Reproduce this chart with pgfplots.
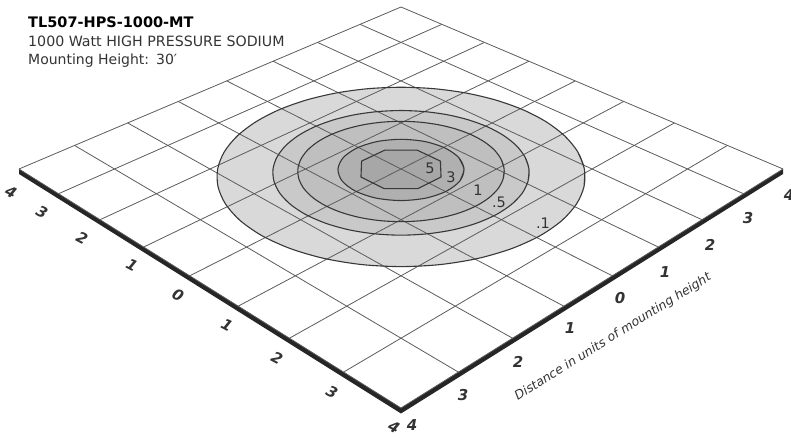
\documentclass[border=0pt]{standalone}
\usepackage{pgfplots}
\usepackage{pgfplotstable}
\pgfplotsset{compat=1.18}
\usepackage{fontspec}
\setmainfont{DejaVu Sans}
\definecolor{gridc}{gray}{0.36}
\definecolor{linec}{gray}{0.22}
\definecolor{txtc}{gray}{0.2}
\definecolor{fA}{gray}{0.85}
\definecolor{fB}{gray}{0.79}
\definecolor{fC}{gray}{0.75}
\definecolor{fD}{gray}{0.69}
\definecolor{fE}{gray}{0.655}

\newcommand\XUV{projx((\thisrow{u}+\thisrow{v})/2,(\thisrow{v}-\thisrow{u})/2)}
\newcommand\YUV{projy((\thisrow{u}+\thisrow{v})/2,(\thisrow{v}-\thisrow{u})/2)}
\newcommand\XLD{projx(\thisrow{l},\thisrow{d})}
\newcommand\YLD{projy(\thisrow{l},\thisrow{d})}

% contour .1 (l = lateral, d = depth, in plane units)
\pgfplotstableread{
l d
1.883 -0.360
1.920 0
1.883 0.360
1.774 0.705
1.596 1.024
1.358 1.303
1.067 1.532
0.735 1.703
0.375 1.808
0 1.843
-0.375 1.808
-0.735 1.703
-1.067 1.532
-1.358 1.303
-1.596 1.024
-1.774 0.705
-1.883 0.360
-1.920 0
-1.883 -0.360
-1.774 -0.705
-1.596 -1.024
-1.358 -1.303
-1.067 -1.532
-0.735 -1.703
-0.375 -1.808
0 -1.843
0.375 -1.808
0.735 -1.703
1.067 -1.532
1.358 -1.303
1.596 -1.024
1.774 -0.705
1.883 -0.360
1.920 0
1.883 0.360
}\cA
% contour .5
\pgfplotstableread{
l d
1.314 -0.251
1.340 0
1.314 0.251
1.238 0.492
1.114 0.714
0.948 0.909
0.744 1.069
0.513 1.188
0.261 1.261
0 1.286
-0.261 1.261
-0.513 1.188
-0.744 1.069
-0.948 0.909
-1.114 0.714
-1.238 0.492
-1.314 0.251
-1.340 0
-1.314 -0.251
-1.238 -0.492
-1.114 -0.714
-0.948 -0.909
-0.744 -1.069
-0.513 -1.188
-0.261 -1.261
0 -1.286
0.261 -1.261
0.513 -1.188
0.744 -1.069
0.948 -0.909
1.114 -0.714
1.238 -0.492
1.314 -0.251
1.340 0
1.314 0.251
}\cB
% contour 1
\pgfplotstableread{
l d
1.059 -0.202
1.080 0
1.059 0.202
0.998 0.397
0.898 0.576
0.764 0.733
0.600 0.862
0.413 0.958
0.211 1.017
0 1.037
-0.211 1.017
-0.413 0.958
-0.600 0.862
-0.764 0.733
-0.898 0.576
-0.998 0.397
-1.059 0.202
-1.080 0
-1.059 -0.202
-0.998 -0.397
-0.898 -0.576
-0.764 -0.733
-0.600 -0.862
-0.413 -0.958
-0.211 -1.017
0 -1.037
0.211 -1.017
0.413 -0.958
0.600 -0.862
0.764 -0.733
0.898 -0.576
0.998 -0.397
1.059 -0.202
1.080 0
1.059 0.202
}\cC
% contour 3
\pgfplotstableread{
l d
0.610 -0.243
0.660 0
0.610 0.243
0.467 0.448
0.253 0.586
0 0.634
-0.253 0.586
-0.467 0.448
-0.610 0.243
-0.660 0
-0.610 -0.243
-0.467 -0.448
-0.253 -0.586
0 -0.634
0.253 -0.586
0.467 -0.448
0.610 -0.243
0.660 0
0.610 0.243
}\cD
% contour 5 (octagonal)
\pgfplotstableread{
l d
0.416 0.165
0.172 0.399
-0.172 0.399
-0.416 0.165
-0.416 -0.165
-0.172 -0.399
0.172 -0.399
0.416 -0.165
0.416 0.165
0.172 0.399
}\cE
% front slab of the plate (u, v, downward offset in px)
\pgfplotstableread{
u v dz
-4 -4 0
4 -4 0
4 4 0
4 4 5
4 -4 5.5
-4 -4 5
}\slab

\begin{document}
\begin{tikzpicture}[declare function={projx(\pa,\pb)=401+95.5*(\pa)/(1+0.048*(\pb)); projy(\pa,\pb)=437-(169-40.164*(\pb))/(1+0.048*(\pb));}]
\useasboundingbox (0,0) rectangle (791pt,437pt);
\begin{axis}[hide axis, scale only axis, width=791pt, height=437pt,
  xmin=0, xmax=791, ymin=0, ymax=437, clip=false, at={(0,0)}, anchor=south west]

% plate edge
\addplot[fill=black!85, draw=none] table[x expr=\XUV, y expr={\YUV-\thisrow{dz}}] {\slab};

% filled contour regions
\addplot[fill=fA, draw=none, smooth] table[x expr=\XLD, y expr=\YLD] {\cA};
\addplot[fill=fB, draw=none, smooth] table[x expr=\XLD, y expr=\YLD] {\cB};
\addplot[fill=fC, draw=none, smooth] table[x expr=\XLD, y expr=\YLD] {\cC};
\addplot[fill=fD, draw=none, smooth] table[x expr=\XLD, y expr=\YLD] {\cD};
\addplot[fill=fE, draw=none] table[x expr=\XLD, y expr=\YLD] {\cE};

% grid
\pgfplotsinvokeforeach{-4,...,4}{
  \addplot[gridc, line width=0.8pt] table[row sep=\\, x expr=\XUV, y expr=\YUV] {u v\\ #1 -4\\ #1 4\\};
  \addplot[gridc, line width=0.8pt] table[row sep=\\, x expr=\XUV, y expr=\YUV] {u v\\ -4 #1\\ 4 #1\\};
}

% contour outlines
\addplot[linec, line width=1.1pt, smooth] table[x expr=\XLD, y expr=\YLD] {\cA};
\addplot[linec, line width=1.1pt, smooth] table[x expr=\XLD, y expr=\YLD] {\cB};
\addplot[linec, line width=1.1pt, smooth] table[x expr=\XLD, y expr=\YLD] {\cC};
\addplot[linec, line width=1.1pt, smooth] table[x expr=\XLD, y expr=\YLD] {\cD};
\addplot[linec, line width=1.1pt] table[x expr=\XLD, y expr=\YLD] {\cE};

% contour labels
\begin{scope}[every node/.style={font=\fontsize{14.5}{14.5}\selectfont, text=txtc, inner sep=0pt}]
\node at (axis cs:430,269) {5};
\node at (axis cs:451,260) {3};
\node at (axis cs:478,247) {1};
\node at (axis cs:499,235) {.5};
\node at (axis cs:543,214) {.1};
\end{scope}

% edge tick labels
\begin{scope}[every node/.style={font=\fontsize{15}{15}\selectfont\bfseries\itshape, text=txtc, inner sep=0pt, rotate=-28}]
\node at (axis cs:11,245) {4};
\node at (axis cs:42,225) {3};
\node at (axis cs:82,199) {2};
\node at (axis cs:132,172) {1};
\node at (axis cs:178,142) {0};
\node at (axis cs:227,112) {1};
\node at (axis cs:277,79) {2};
\node at (axis cs:332,45) {3};
\node at (axis cs:394,10) {4};
\end{scope}
\begin{scope}[every node/.style={font=\fontsize{15}{15}\selectfont\bfseries\itshape, text=txtc, inner sep=0pt}]
\node at (axis cs:412,12) {4};
\node at (axis cs:463,42) {3};
\node at (axis cs:518,75) {2};
\node at (axis cs:570,109) {1};
\node at (axis cs:620,139) {0};
\node at (axis cs:665,165) {1};
\node at (axis cs:710,192) {2};
\node at (axis cs:748,219) {3};
\node at (axis cs:789,242) {4};
\end{scope}
\node[font=\fontsize{12.5}{12.5}\selectfont\itshape, text=txtc, rotate=32, inner sep=0pt] at (axis cs:613,100) {Distance in units of mounting height};

% title block
\node[anchor=base west, inner sep=0pt, font=\fontsize{14.5}{14.5}\selectfont\bfseries] at (axis cs:28,409) {TL507-HPS-1000-MT};
\node[anchor=base west, inner sep=0pt, font=\fontsize{14.2}{14.2}\selectfont, text=txtc] at (axis cs:28,390) {1000 Watt HIGH PRESSURE SODIUM};
\node[anchor=base west, inner sep=0pt, font=\fontsize{14}{14}\selectfont, text=txtc] at (axis cs:28,372) {Mounting Height:\hspace{7pt}30′};
\end{axis}
\end{tikzpicture}
\end{document}
